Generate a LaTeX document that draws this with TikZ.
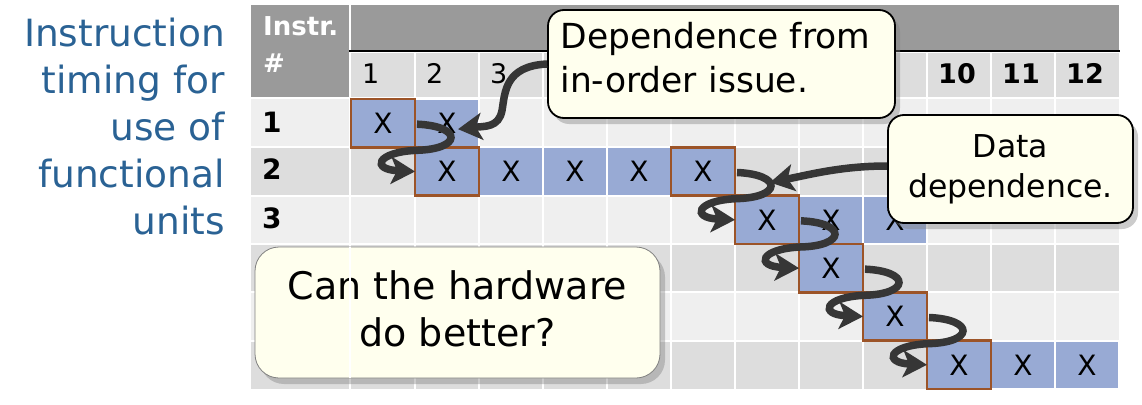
\documentclass[tikz,border=0pt]{standalone}
\usepackage{fontspec}
\setmainfont{DejaVu Sans}
\usetikzlibrary{arrows.meta,shadows}
\definecolor{hdrgray}{HTML}{9A9A9A}
\definecolor{rowlight}{HTML}{EFEFEF}
\definecolor{rowdark}{HTML}{DDDDDD}
\definecolor{cellblue}{RGB}{152,170,212}
\definecolor{keybrown}{RGB}{156,84,40}
\definecolor{titleblue}{RGB}{42,98,148}
\definecolor{notefill}{HTML}{FFFFEE}
\definecolor{loopgray}{HTML}{363636}
\tikzset{
  xcell/.style={rectangle, minimum width=64pt, minimum height=48.33pt, inner sep=0pt, outer sep=0pt,
    fill=cellblue, draw=white, line width=2pt, font=\fontsize{28}{28}\selectfont},
  keycell/.style={xcell, draw=keybrown, line width=2.5pt},
  gridline/.style={draw=white, line width=2pt},
  looparrow/.style={draw=loopgray, line width=7.5pt, -{Stealth[length=24pt,width=27pt,inset=6pt]}},
  note/.style={rectangle, rounded corners=16pt, fill=notefill, draw=black, line width=1.8pt,
    inner sep=0pt, drop shadow={shadow xshift=5pt, shadow yshift=-6pt, opacity=0.4}},
  rowlbl/.style={anchor=base west, inner sep=0pt, font=\bfseries\fontsize{28}{28}\selectfont},
  collbl/.style={anchor=base west, inner sep=0pt, font=\fontsize{27}{27}\selectfont},
  collblb/.style={collbl, font=\bfseries\fontsize{27}{27}\selectfont},
}
\begin{document}
\begin{tikzpicture}[x=1pt,y=-1pt]
\useasboundingbox (0,0) rectangle (1142,404);

% title
\node[anchor=north east, inner sep=0pt, align=right, text=titleblue,
  font=\fontsize{37.5}{47}\selectfont] (title) at (225,17.7)
  {Instruction\\timing for\\use of\\functional\\units};

% header
\fill[hdrgray] (251,5) rectangle (349,97);
\fill[hdrgray] (351,5) rectangle (1119,51);
\fill[rowdark] (351,53) rectangle (1119,98);
\draw[black, line width=2pt] (349,51.5) -- (1120,51.5);

% row stripes
\foreach \r in {1,...,6} {
  \pgfmathsetmacro\yt{99+48.33*(\r-1)}
  \pgfmathsetmacro\yb{\yt+48.33}
  \ifodd\r
    \fill[rowlight] (251,\yt) rectangle (1119,\yb);
  \else
    \fill[rowdark] (251,\yt) rectangle (1119,\yb);
  \fi
}
% white grid lines
\draw[gridline] (350,53) -- (350,389);
\foreach \k in {1,...,11} \draw[gridline] ({351+64*\k},53) -- ({351+64*\k},389);
\draw[gridline] (251,98) -- (1119,98);
\foreach \r in {1,...,5} \draw[gridline] (251,{99+48.33*\r}) -- (1119,{99+48.33*\r});

% header texts
\node[anchor=north west, inner sep=0pt, align=left, text=white,
  font=\bfseries\fontsize{26}{37}\selectfont] (instrhdr) at (263,16) {Instr.\\\#};
\node[collbl] (n1) at (362,83) {1};
\node[collbl] (n2) at (426,83) {2};
\node[collbl] (n3) at (490,83) {3};
\node[collblb] (n10) at (938,83) {10};
\node[collblb] (n11) at (1002,83) {11};
\node[collblb] (n12) at (1066,83) {12};

% row labels
\node[rowlbl] (r1) at (262,132) {1};
\node[rowlbl] (r2) at (262,179) {2};
\node[rowlbl] (r3) at (262,228) {3};

% X cells (plain)
\foreach \r/\c in {1/2, 2/3, 2/4, 2/5, 3/8, 3/9, 6/11, 6/12}
  \node[xcell] (c\r-\c) at ({351+64*(\c-1)+32},{99+48.33*(\r-1)+24.17}) {X};
% X cells (outlined)
\foreach \r/\c in {1/1, 2/2, 2/6, 3/7, 4/8, 5/9, 6/10}
  \node[keycell] (c\r-\c) at ({351+64*(\c-1)+32},{99+48.33*(\r-1)+24.17}) {X};

% loop arrows
\foreach \a/\b in {c1-1/c2-2, c2-6/c3-7, c3-7/c4-8, c4-8/c5-9, c5-9/c6-10}
  \draw[looparrow] ([shift={(2,1)}]\a.east) .. controls +(46,2) and +(46,-1) ..
    ([shift={(1,3)}]\a.south east) .. controls +(-40,2) and +(-44,-2) .. (\b.west);

% callout: in-order issue
\node[note, minimum width=347pt, minimum height=108pt, align=left, text width=322pt,
  font=\fontsize{34.5}{44}\selectfont] (dep) at (721.5,64)
  {Dependence from\\in-order issue.\rule[-14.2pt]{0pt}{0pt}};
\coordinate (deptip) at ([shift={(11,6)}]c1-2.center);
\draw[looparrow] (dep.west) .. controls +(-42,2) and +(3,-18) ..
  ([shift={(-45,46)}]dep.west) .. controls +(-3,18) and +(26,-3) .. (deptip);

% callout: data dependence
\node[note, minimum width=245pt, minimum height=108pt, align=center,
  font=\fontsize{31.5}{40}\selectfont] (data) at (1010.5,169)
  {Data\\dependence.};
\coordinate (datatip) at ([shift={(35,11)}]c2-6.east);
\draw[looparrow] ([shift={(0,-3)}]data.west) .. controls +(-45,0) and +(40,-8) .. (datatip);

% callout: question
\node[note, draw=gray, line width=0.8pt, rounded corners=24pt, minimum width=405pt, minimum height=131pt,
  align=center, font=\fontsize{38}{47}\selectfont] (can) at (457.5,312.5)
  {Can the hardware\\do better?\rule[-7pt]{0pt}{0pt}};
\draw[white, line width=1.5pt] ([xshift=-1pt]can.north -| c1-1.west) -- ([xshift=-1pt]can.south -| c1-1.west);
\end{tikzpicture}
\end{document}
